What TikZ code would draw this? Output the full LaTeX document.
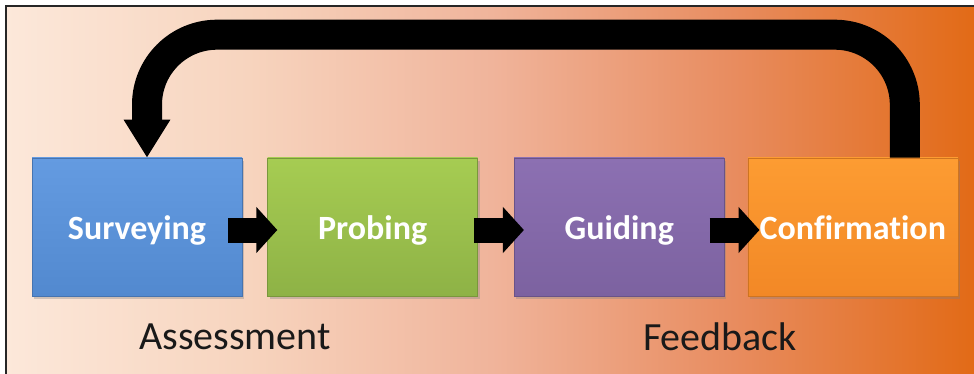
\documentclass[tikz,border=0pt]{standalone}
\usepackage{fontspec}
\setmainfont{Carlito}[Ligatures=NoCommon]
\usepackage{tikz}
\usetikzlibrary{arrows.meta, positioning, shadows}

\definecolor{bg0}{RGB}{252,232,218}
\definecolor{bg1}{RGB}{247,212,190}
\definecolor{bg2}{RGB}{240,180,155}
\definecolor{bg3}{RGB}{232,140,95}
\definecolor{bg4}{RGB}{226,106,22}
\pgfdeclarehorizontalshading{bgshade}{100bp}{color(0bp)=(bg0); color(25bp)=(bg0);
  color(37.5bp)=(bg1); color(50bp)=(bg2); color(62.5bp)=(bg3);
  color(75bp)=(bg4); color(100bp)=(bg4)}

\definecolor{blueT}{RGB}{100,155,225}
\definecolor{blueB}{RGB}{82,137,207}
\definecolor{greenT}{RGB}{166,204,82}
\definecolor{greenB}{RGB}{142,178,70}
\definecolor{purpT}{RGB}{140,112,178}
\definecolor{purpB}{RGB}{124,98,160}
\definecolor{oranT}{RGB}{253,156,50}
\definecolor{oranB}{RGB}{242,136,38}

\tikzset{
  stage/.style  = {rectangle, minimum width=210pt, minimum height=138pt,
                   inner sep=0pt, text=white, line width=0.6pt,
                   text height=30pt, text depth=4pt,
                   font=\fontsize{34}{40}\selectfont\bfseries,
                   drop shadow={opacity=0.35, shadow xshift=2pt, shadow yshift=-3pt}},
  hop/.style    = {line width=25pt, draw=black,
                   -{Triangle[width=45pt, length=21pt]}},
  back/.style   = {line width=30pt, draw=black, rounded corners=70pt,
                   -{Triangle[width=44pt, length=38pt]}},
  phase/.style  = {font=\fontsize{40}{46}\selectfont, text=black!90, inner sep=0pt},
}

\begin{document}
\begin{tikzpicture}[x=1pt, y=-1pt]
  \useasboundingbox (0,0) rectangle (974,374);
  \fill[white] (0,0) rectangle (974,374);
  \shade[shading=bgshade] (6,6) rectangle (976,378);
  \draw[line width=1.4pt, black!85] (6,378) -- (6,6) -- (976,6);

  \node[stage, top color=blueT, bottom color=blueB, draw=blueB!85!black] (surv) at (137,227) {Surveying};
  \node[stage, top color=greenT, bottom color=greenB, draw=greenB!85!black, right=25pt of surv] (prob) {Probing};
  \node[stage, top color=purpT, bottom color=purpB, draw=purpB!85!black, right=36pt of prob] (guid) {Guiding};
  \node[stage, top color=oranT, bottom color=oranB, draw=oranB!85!black, right=23pt of guid] (conf) {Confirmation};

  \node[phase] (assess) at (235,337) {Assessment};
  \node[phase] (feed) at (720,337) {Feedback};

  \draw[hop] ([xshift=-14pt, yshift=-3pt]surv.east) -- ([xshift=10pt, yshift=-3pt]prob.west);
  \draw[hop] ([xshift=-4pt, yshift=-3pt]prob.east) -- ([xshift=10pt, yshift=-3pt]guid.west);
  \draw[hop] ([xshift=-15pt, yshift=-3pt]guid.east) -- ([xshift=12pt, yshift=-3pt]conf.west);

  \draw[back] ([xshift=52pt]conf.north) -- ++(0,-123) -| ([xshift=10pt]surv.north);
\end{tikzpicture}
\end{document}
